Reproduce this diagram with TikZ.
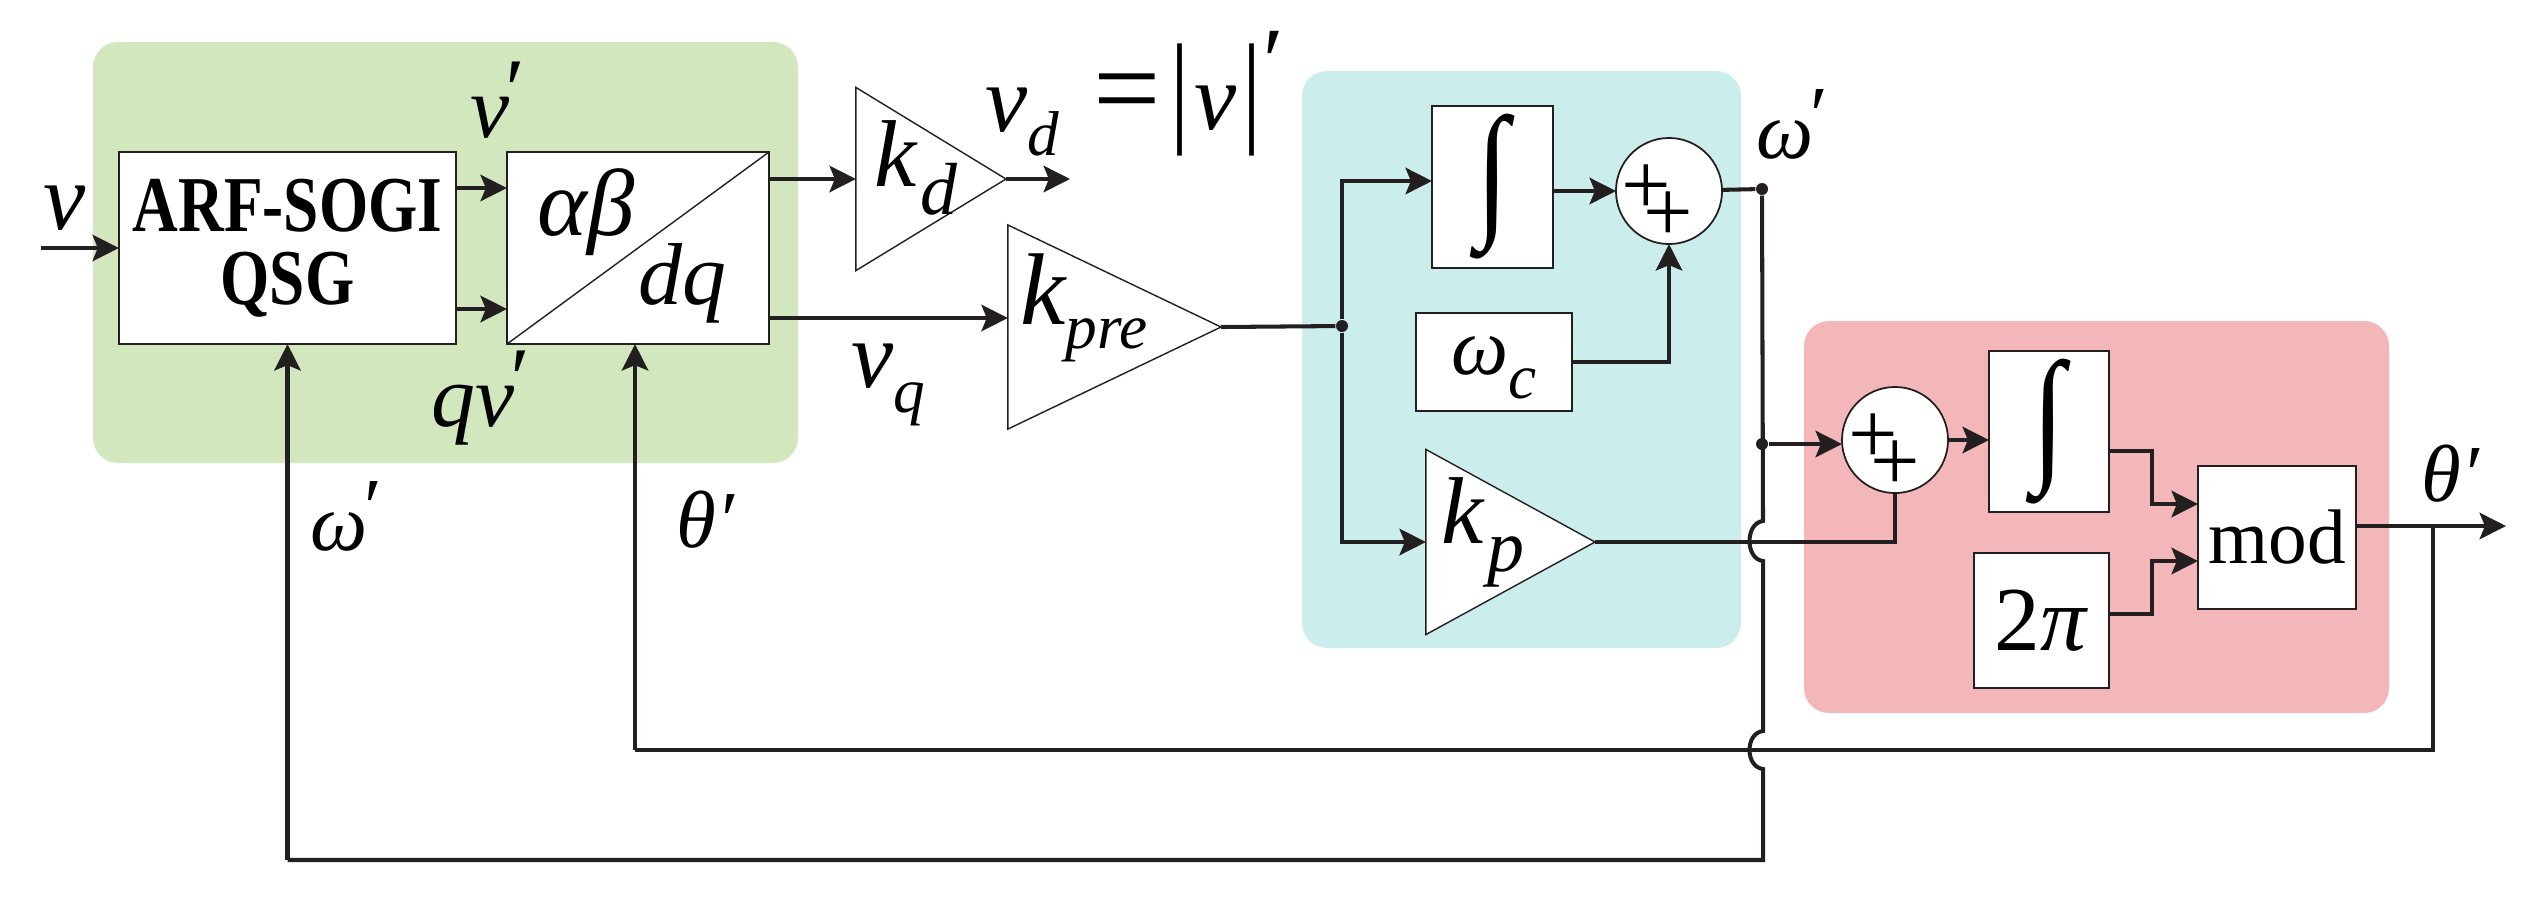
\documentclass[tikz,border=0pt]{standalone}
\usepackage{fontspec}
\usepackage{graphicx}
\setmainfont{Liberation Serif}
\usetikzlibrary{arrows.meta,shapes.geometric}
\definecolor{groupgreen}{HTML}{D3E7BF}
\definecolor{groupteal}{HTML}{CBEDEB}
\definecolor{groupred}{HTML}{F3B7BA}
\definecolor{linkblack}{HTML}{231F20}
\newcommand{\lowsub}[1]{\raisebox{-7pt}{\fontsize{18}{20}\selectfont #1}}
\newcommand{\bigsub}[1]{\kern1pt\raisebox{-8pt}{\fontsize{21}{22}\selectfont #1}}
\newcommand{\bigint}{\raisebox{-2pt}{\scalebox{0.8}[1]{\upshape\fontsize{42}{44}\selectfont ∫}}}
\newcommand{\tallbar}{\scalebox{1}[1.3]{\upshape|}}
\newcommand{\upprime}{\kern-0.1em\raisebox{0.2em}{′}}
\newcommand{\tallcaps}[1]{\scalebox{1}[1.25]{#1}}
\tikzset{
  groupbox/.style={rounded corners=0.25cm, draw=none},
  blockbox/.style={draw=linkblack, line width=0.5pt, fill=white, inner sep=0pt, outer sep=0pt},
  gainbox/.style={draw=linkblack, line width=0.4pt, fill=white, inner sep=0pt, outer sep=0pt, isosceles triangle, isosceles triangle stretches, anchor=apex},
  sumbox/.style={draw=linkblack, line width=0.5pt, fill=white, circle, inner sep=0pt, outer sep=0pt, minimum size=1.06cm},
  dotmark/.style={fill=linkblack, circle, inner sep=0pt, minimum size=0.12cm},
  plusmark/.style={inner sep=0pt, font=\fontsize{25}{27}\selectfont},
  mathlabel/.style={inner sep=0pt, text=black, font=\itshape\fontsize{27}{30}\selectfont},
  smalllabel/.style={inner sep=0pt, text=black, font=\itshape\fontsize{23}{25}\selectfont},
  uprightlabel/.style={font=\fontsize{26}{30}\selectfont},
  link/.style={draw=linkblack, line width=1.15pt},
  flow/.style={link, -{Stealth[length=7.5pt,width=7.5pt,inset=1.5pt]}}
}

\begin{document}
\begin{tikzpicture}[x=0.01cm,y=-0.01cm]
\useasboundingbox (0,0) rectangle (2536,896);

% Coloured groups
\fill[groupbox, groupgreen] (93,42) rectangle (798,463);
\fill[groupbox, groupteal] (1302,71) rectangle (1741,648);
\fill[groupbox, groupred] (1804,321) rectangle (2389,713);

% QSG and Park blocks
\node[blockbox, minimum width=3.37cm, minimum height=1.92cm, align=center, font=\bfseries\fontsize{18}{20.7}\selectfont] (qsg) at (287.5,248) {\tallcaps{ARF-SOGI}\\\tallcaps{QSG}};
\node[blockbox, minimum width=2.62cm, minimum height=1.92cm] (park) at (638,248) {};
\draw[linkblack, line width=0.4pt] (park.south west) -- (park.north east);
\node[mathlabel] (alphabeta) at (586,212) {αβ};
\node[mathlabel, font=\itshape\fontsize{25}{30}\selectfont] (dqlabel) at (682,283) {dq};

% Gains
\node[gainbox, minimum width=1.83cm, minimum height=1.50cm] (kd) at (1006,179) {};
\node[gainbox, minimum width=2.04cm, minimum height=2.13cm] (kpre) at (1221,327) {};
\node[gainbox, minimum width=1.85cm, minimum height=1.69cm] (kp) at (1595,542) {};
\node[mathlabel] (kdlabel) at (916,168) {k\bigsub{d}};
\node[mathlabel, font=\itshape\fontsize{29}{30}\selectfont] (kprelabel) at (1084,308) {k\lowsub{pre}};
\node[mathlabel] (kplabel) at (1483,532) {k\bigsub{p}};

% Speed branch
\node[blockbox, minimum width=1.21cm, minimum height=1.62cm] (intspeed) at (1492.5,187) {\bigint};
\node[blockbox, minimum width=1.56cm, minimum height=0.98cm] (omegac) at (1494,362) {};
\node[smalllabel] (omegaclabel) at (1494,368) {ω\lowsub{c}};
\node[sumbox] (sumspeed) at (1669,191) {};
\node[plusmark] (plusa) at (1646,190) {+};
\node[plusmark] (plusb) at (1668,217) {+};

% Angle branch
\node[sumbox] (sumangle) at (1895,440) {};
\node[plusmark] (plusc) at (1873,439) {+};
\node[plusmark] (plusd) at (1895,466) {+};
\node[blockbox, minimum width=1.20cm, minimum height=1.61cm] (intangle) at (2049,431.5) {\bigint};
\node[blockbox, minimum width=1.35cm, minimum height=1.35cm, uprightlabel] (twopi) at (2041.5,620.5) {2\textit{π}};
\node[blockbox, minimum width=1.58cm, minimum height=1.43cm, font=\fontsize{22}{24}\selectfont] (modbox) at (2277,537.5) {mod};

% Junctions and bends
\node[dotmark] (splitdot) at (1342,326) {};
\node[dotmark] (omegadot) at (1762,189) {};
\node[dotmark] (angledot) at (1762,444) {};
\coordinate (vin) at (41,248);
\coordinate (vupper) at (0,188);
\coordinate (vlower) at (0,309);
\coordinate (vdend) at (1070,179);
\coordinate (vqlevel) at (0,318);
\coordinate (thetaend) at (2506,526);
\coordinate (thetatap) at (2433,526);
\coordinate (thetalevel) at (0,750);
\coordinate (omegalevel) at (1763,860);
\coordinate (parkdrop) at (635,0);
\coordinate (bendint) at (2152,451);
\coordinate (bendpi) at (2152,614);
\coordinate (jumpatop) at (1763,521);
\coordinate (jumpabot) at (1763,561);
\coordinate (jumpbtop) at (1763,731);
\coordinate (jumpbbot) at (1763,769);

% Forward path
\draw[flow] (vin) -- (qsg.west |- vin);
\draw[flow] (qsg.east |- vupper) -- (park.west |- vupper);
\draw[flow] (qsg.east |- vlower) -- (park.west |- vlower);
\draw[flow] (park.east |- kd.apex) -- (kd.west);
\draw[flow] (kd.apex) -- (vdend);
\draw[flow] (park.east |- vqlevel) -- (kpre.west |- vqlevel);
\draw[link] (kpre.apex) -- (splitdot);
\draw[flow] (splitdot) |- (intspeed.west |- 0,181);
\draw[flow] (splitdot) |- (kp.west);
\draw[flow] (intspeed.east |- sumspeed) -- (sumspeed);
\draw[flow] (omegac.east) -| (sumspeed.south);
\draw[link] (sumspeed) -- (omegadot);
\draw[flow] (angledot) -- (sumangle.west |- angledot);
\draw[link] (kp.apex) -| (sumangle.south);
\draw[flow] (sumangle.east) -- (intangle.west |- sumangle.east);
\draw[flow] (intangle.east |- bendint) -- (bendint) |- (modbox.west |- 0,504);
\draw[flow] (twopi.east |- bendpi) -- (bendpi) |- (modbox.west |- 0,561);
\draw[flow] (modbox.east |- thetaend) -- (thetaend);

% Feedback paths
\draw[link] (omegadot) -- (jumpatop)
  .. controls (1745,523) and (1745,559) .. (jumpabot) -- (jumpbtop)
  .. controls (1745,733) and (1745,767) .. (jumpbbot) -- (omegalevel)
  -- (qsg.south |- omegalevel);
\draw[flow] (qsg.south |- omegalevel) -- (qsg.south);
\draw[link] (thetatap) |- (parkdrop |- thetalevel);
\draw[flow] (parkdrop |- thetalevel) -- (parkdrop |- park.south);

% Signal labels
\node[mathlabel] (vlabel) at (65,208) {v};
\node[mathlabel, font=\itshape\fontsize{25}{30}\selectfont] (vprime) at (495,100) {v\upprime};
\node[mathlabel, font=\itshape\fontsize{25}{30}\selectfont] (qvprime) at (478,398) {qv\upprime};
\node[mathlabel] (vdlabel) at (1022,122) {v\lowsub{d}};
\node[mathlabel] (vqlabel) at (888,385) {v\lowsub{q}};
\node[inner sep=0pt, font=\fontsize{34}{36}\selectfont] (equalsign) at (1127,101) {=};
\node[mathlabel] (absv) at (1216,100) {\tallbar\kern0.06em v\kern0.06em\tallbar};
\node[mathlabel] (absprime) at (1268,62) {′};
\node[smalllabel] (omegatop) at (1790,124) {ω\upprime};
\node[smalllabel] (thetaright) at (2450,474) {θ′};
\node[smalllabel] (omegafb) at (344,516) {ω\upprime};
\node[smalllabel] (thetafb) at (705,520) {θ′};
\end{tikzpicture}
\end{document}
